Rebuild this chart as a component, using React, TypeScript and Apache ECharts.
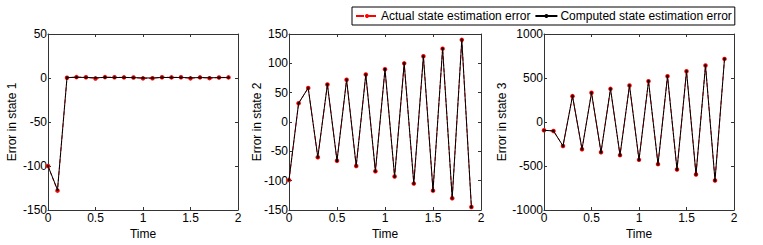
import React, { useEffect, useRef } from "react";
import * as echarts from "echarts";

const times = [0, 0.1, 0.2, 0.3, 0.4, 0.5, 0.6, 0.7, 0.8, 0.9, 1.0, 1.1, 1.2, 1.3, 1.4, 1.5, 1.6, 1.7, 1.8, 1.9];

const actual1 = [-100, -128, 0.3, 1, 0.8, -0.5, 1, 0.8, 0.7, 0.5, -0.4, -0.3, 0.9, 0.7, 0.8, -0.4, 0.7, -0.2, 0.6, 0.7];
const computed1 = [-100, -127, 0.5, 0.8, 0.6, 0.2, 0.7, 0.5, 0.6, 0.4, 0.1, 0.0, 0.6, 0.5, 0.6, 0.2, 0.5, 0.3, 0.4, 0.5];

const actual2 = [-99, 32, 58, -60, 64, -66, 72, -75, 81, -84, 90, -93, 100, -105, 112, -117, 125, -130, 140, -145];
const computed2 = [-99, 32, 58, -60, 64, -66, 72, -75, 81, -84, 90, -93, 100, -105, 112, -117, 125, -130, 140, -145];

const actual3 = [-94, -102, -272, 294, -309, 332, -343, 377, -377, 415, -430, 464, -479, 521, -540, 577, -596, 642, -664, 717];
const computed3 = [-94, -102, -272, 294, -309, 332, -343, 377, -377, 415, -430, 464, -479, 521, -540, 577, -596, 642, -664, 717];

const yLabels = ["Error in state 1", "Error in state 2", "Error in state 3"];
const yMins = [-150, -150, -1000];
const yMaxs = [50, 150, 1000];
const yIntervals = [50, 50, 500];
const xLabel = "Time";
const legendNames = ["Actual state estimation error", "Computed state estimation error"];

const FONT = "Liberation Sans";
const AXIS_COLOR = "#333";

export default function App() {
  const ref = useRef<HTMLDivElement>(null);
  useEffect(() => {
    if (!ref.current) return;
    const chart = echarts.init(ref.current, undefined, { renderer: "svg" });
    const grids = [
      { left: 48, top: 34, width: 190, height: 177 },
      { left: 289, top: 34, width: 192, height: 177 },
      { left: 544, top: 34, width: 190, height: 177 },
    ];
    const nameGaps = [30, 26, 36];
    const xAxes: any[] = [];
    const yAxes: any[] = [];
    const series: any[] = [];
    const actuals = [actual1, actual2, actual3];
    const computeds = [computed1, computed2, computed3];
    grids.forEach((g, i) => {
      const base = {
        gridIndex: i,
        type: "value",
        splitLine: { show: false },
        axisLine: { show: true, onZero: false, lineStyle: { color: AXIS_COLOR, width: 1 } },
        axisTick: { show: true, inside: true, length: 3, lineStyle: { color: AXIS_COLOR } },
      };
      xAxes.push({
        ...base,
        position: "bottom",
        min: 0,
        max: 2,
        interval: 0.5,
        name: xLabel,
        nameLocation: "middle",
        nameGap: 18,
        nameMoveOverlap: false,
        nameTextStyle: { fontFamily: FONT, fontSize: 12, color: "#000" },
        axisLabel: { fontFamily: FONT, fontSize: 12, color: "#000", margin: 2 },
      });
      xAxes.push({
        ...base,
        position: "top",
        min: 0,
        max: 2,
        interval: 0.5,
        axisLabel: { show: false },
      });
      yAxes.push({
        ...base,
        position: "left",
        min: yMins[i],
        max: yMaxs[i],
        interval: yIntervals[i],
        name: yLabels[i],
        nameLocation: "middle",
        nameGap: nameGaps[i],
        nameMoveOverlap: false,
        nameTextStyle: { fontFamily: FONT, fontSize: 12, color: "#000" },
        axisLabel: {
          fontFamily: FONT,
          fontSize: 12,
          color: "#000",
          margin: 1,
          formatter: (v: number) => String(v),
        },
      });
      yAxes.push({
        ...base,
        position: "right",
        min: yMins[i],
        max: yMaxs[i],
        interval: yIntervals[i],
        axisLabel: { show: false },
      });
      const xIdx = i * 2;
      const yIdx = i * 2;
      series.push({
        name: legendNames[0],
        type: "line",
        xAxisIndex: xIdx,
        yAxisIndex: yIdx,
        data: times.map((t, k) => [t, actuals[i][k]]),
        symbol: "circle",
        symbolSize: 4.5,
        itemStyle: { color: "#ff0000" },
        lineStyle: { color: "#ff0000", type: "dashed", width: 1 },
        z: 2,
      });
      series.push({
        name: legendNames[1],
        type: "line",
        xAxisIndex: xIdx,
        yAxisIndex: yIdx,
        data: times.map((t, k) => [t, computeds[i][k]]),
        symbol: "circle",
        symbolSize: 2.5,
        itemStyle: { color: "#000" },
        lineStyle: { color: "#000", width: 1 },
        z: 3,
      });
    });
    chart.setOption({
      animation: false,
      backgroundColor: "#fff",
      grid: grids,
      xAxis: xAxes,
      yAxis: yAxes,
      legend: {
        data: legendNames,
        left: 352,
        top: 7,
        padding: [3, 3, 3, 3],
        itemGap: 4,
        itemWidth: 22,
        itemHeight: 5,
        borderColor: "#000",
        borderWidth: 1,
        backgroundColor: "#fff",
        textStyle: { fontFamily: FONT, fontSize: 12, color: "#000", padding: [0, 0, 0, -2] },
      },
      series,
    });
    return () => chart.dispose();
  }, []);
  return (
    <div
      ref={ref}
      style={{ position: "fixed", left: 0, top: 0, width: 763, height: 245, background: "#fff" }}
    />
  );
}
